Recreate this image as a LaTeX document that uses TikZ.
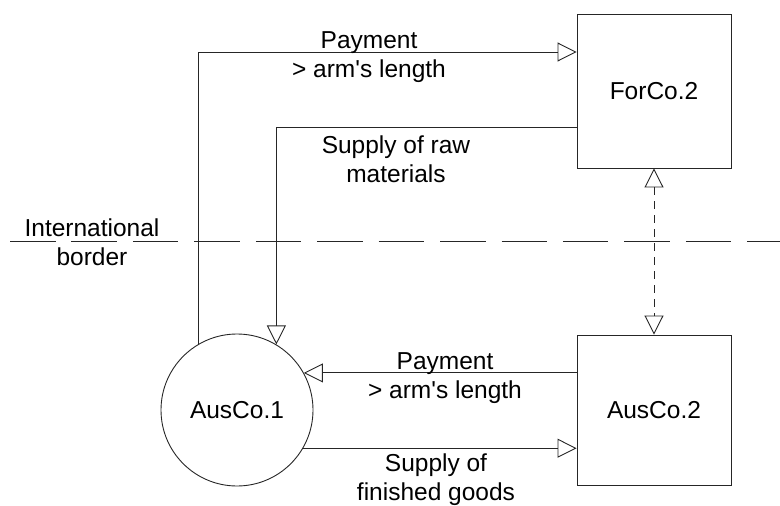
\documentclass[tikz,border=0pt]{standalone}
\usepackage{fontspec}
\setmainfont{Liberation Sans}
\usetikzlibrary{arrows.meta}
\begin{document}
\begin{tikzpicture}[x=1pt,y=-1pt,
  every node/.style={font=\fontsize{24.5}{29}\selectfont, text=black},
  ln/.style={draw=black!85, line width=0.9pt},
  arr/.style={ln, -{Triangle[open, length=19pt, width=19pt]}},
  darr/.style={ln, {Triangle[open, length=19pt, width=19pt]}-{Triangle[open, length=19pt, width=19pt]}, dash pattern=on 8pt off 6pt},
  boxnode/.style={ln, rectangle, minimum width=154pt, minimum height=152pt, inner sep=0pt},
  circnode/.style={ln, circle, minimum size=152pt, inner sep=0pt},
  lbl/.style={align=center, inner sep=0pt, anchor=base}]
\useasboundingbox (0,0) rectangle (780,506);
\node[boxnode, minimum height=154pt] (f2) at (654,91) {ForCo.2};
\node[boxnode, minimum height=150pt] (au2) at (654,410) {AusCo.2};
\node[circnode] (a1) at (237,410) {AusCo.1};
% border
\draw[ln, dash pattern=on 45.5pt off 15.94pt] (10,241) -- (780,241);
\node[lbl] (border) at (92,265) {International\\border};
% connectors
\draw[arr] (a1.120) |- (f2.west |- 0,52);
\draw[arr] (f2.west |- 0,127) -| (a1.59);
\draw[arr] (au2.west |- a1.29) -- (a1.29);
\draw[arr] (a1.-30) -- (au2.west |- a1.-30);
\draw[darr] (f2.south) -- (au2.north);
% labels
\node[lbl] (l1) at (369,77) {Payment\\> arm\textquotesingle s length};
\node[lbl] (l2) at (396,182) {Supply of raw\\materials};
\node[lbl] (l3) at (445,398) {Payment\\> arm\textquotesingle s length};
\node[lbl] (l4) at (436,500) {Supply of\\finished goods};
\end{tikzpicture}
\end{document}
